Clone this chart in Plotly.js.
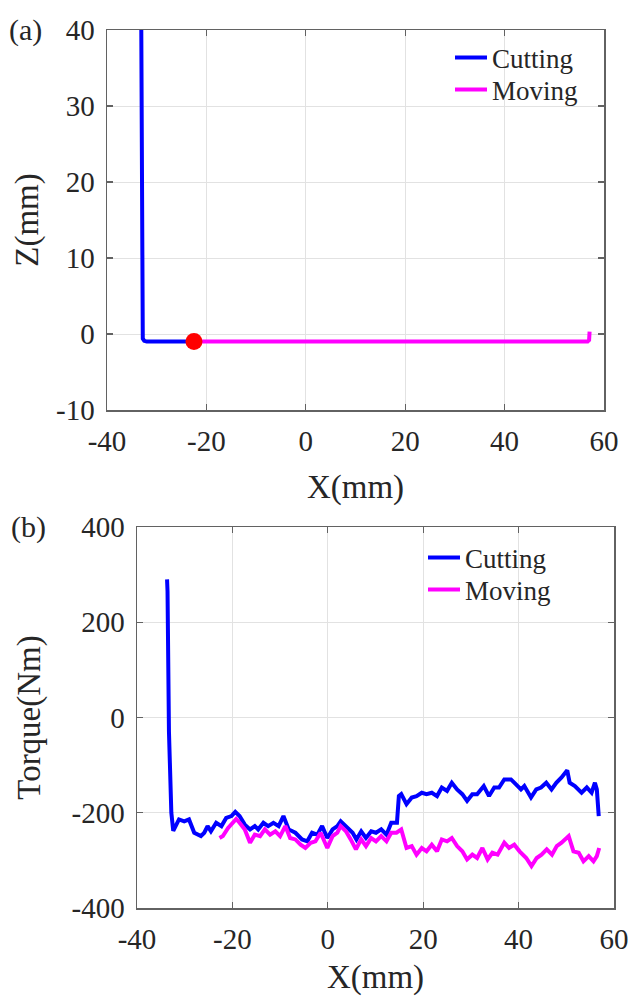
<!DOCTYPE html>
<html>
<head>
<meta charset="utf-8">
<script src="https://cdn.plot.ly/plotly-3.0.1.min.js"></script>
<style>html,body{margin:0;padding:0;background:#fff;}#chart{width:632px;height:997px;}</style>
</head>
<body>
<div id="chart"></div>
<script>
// ---- Panel (a): tool path ----
const pathCutX = [-33.1, -33.0, -32.95, -32.9, -32.8, -32.5, -32.0, -22.5];
const pathCutZ = [40, 10, 1, 0, -0.6, -0.9, -1.0, -1.0];
const pathMoveX = [-22.5, 56.7, 57.0, 57.1];
const pathMoveZ = [-1.0, -1.0, -0.8, 0.3];
const startX = [-22.5];
const startZ = [-1.0];

// ---- Panel (b): torque ----
const cutX = [-33.7, -33.6, -33.3, -32.8, -32.4, -31.2, -30.1, -29.1, -28.0, -26.6, -25.9, -25.2, -24.5, -23.4, -22.3, -21.3, -20.2, -19.4, -18.5, -17.4, -16.3, -15.3, -14.6, -13.5, -12.5, -11.4, -10.3, -9.3, -8.2, -6.8, -5.4, -4.3, -3.3, -2.2, -1.2, -0.1, 1.0, 2.0, 2.7, 3.8, 5.2, 6.0, 7.0, 8.0, 9.1, 10.1, 11.2, 12.3, 13.3, 14.5, 14.9, 15.4, 16.5, 17.6, 18.6, 19.7, 20.7, 21.8, 22.9, 23.9, 25.0, 26.0, 27.1, 28.2, 29.2, 30.3, 31.3, 32.7, 33.8, 34.9, 35.9, 37.0, 38.4, 39.4, 40.5, 41.2, 42.6, 43.7, 44.7, 45.8, 46.9, 47.9, 49.0, 50.2, 50.7, 51.8, 53.2, 54.3, 55.3, 56.0, 56.4, 56.8];
const cutT = [290, 265, -30, -200, -238, -214, -218, -214, -242, -249, -242, -228, -239, -221, -228, -211, -207, -198, -207, -225, -235, -228, -235, -221, -228, -221, -228, -207, -235, -242, -256, -260, -242, -246, -228, -253, -235, -228, -218, -228, -242, -256, -239, -253, -239, -242, -235, -246, -221, -221, -165, -161, -182, -168, -165, -158, -161, -158, -165, -147, -154, -137, -151, -161, -175, -161, -161, -144, -165, -147, -147, -130, -130, -140, -151, -144, -168, -151, -147, -137, -151, -137, -126, -111, -137, -144, -158, -147, -158, -137, -151, -207];
const moveX = [-22.7, -22.0, -20.9, -19.9, -19.2, -18.5, -17.4, -16.3, -15.3, -14.2, -13.2, -12.1, -11.0, -10.0, -8.9, -7.9, -6.8, -5.7, -4.7, -3.6, -2.6, -1.5, -0.1, 1.0, 2.0, 2.7, 3.8, 4.8, 5.9, 7.0, 8.0, 9.1, 10.1, 11.2, 12.3, 13.3, 14.4, 15.4, 16.5, 17.6, 18.6, 19.7, 20.7, 21.8, 22.9, 23.9, 25.0, 26.0, 27.1, 28.2, 29.2, 30.3, 31.3, 32.4, 33.5, 34.5, 35.6, 37.0, 38.0, 39.1, 40.2, 41.6, 42.7, 43.8, 44.8, 45.9, 47.0, 48.0, 49.0, 50.5, 51.5, 52.6, 53.6, 54.7, 55.7, 56.4, 56.9];
const moveT = [-253, -249, -232, -221, -213, -221, -235, -263, -246, -249, -235, -246, -239, -249, -228, -253, -256, -267, -274, -263, -260, -242, -274, -249, -242, -228, -239, -256, -277, -256, -270, -253, -260, -249, -260, -242, -242, -235, -274, -270, -288, -274, -281, -267, -281, -256, -260, -253, -270, -281, -298, -288, -295, -274, -298, -284, -288, -263, -274, -267, -281, -295, -312, -295, -288, -277, -288, -270, -263, -249, -281, -284, -302, -291, -302, -291, -274];

const xTicks = [-40, -20, 0, 20, 40, 60];
const xTickText = ['-40', '-20', '0', '20', '40', '60'];
const zTicks = [-10, 0, 10, 20, 30, 40];
const zTickText = ['-10', '0', '10', '20', '30', '40'];
const tTicks = [-400, -200, 0, 200, 400];
const tTickText = ['-400', '-200', '0', '200', '400'];

const FONT = 'Liberation Serif';
const TXT = '#262626';
const W = 632, H = 997;
const px = v => v / W;
const py = v => 1 - v / H;

function axisBase(extra) {
  return Object.assign({
    showline: true, linecolor: '#626262', linewidth: 1.5, mirror: 'ticks',
    ticks: 'inside', ticklen: 6, tickwidth: 1.2, tickcolor: '#626262',
    showgrid: true, gridcolor: '#e2e2e2', gridwidth: 1, zeroline: false,
    tickmode: 'array', ticklabelstandoff: 5,
    tickfont: {family: FONT, size: 29, color: TXT},
    fixedrange: true
  }, extra);
}

const traces = [
  {x: pathCutX, y: pathCutZ, xaxis: 'x', yaxis: 'y', mode: 'lines', name: 'Cutting',
   line: {color: '#0000ff', width: 4}, legend: 'legend'},
  {x: pathMoveX, y: pathMoveZ, xaxis: 'x', yaxis: 'y', mode: 'lines', name: 'Moving',
   line: {color: '#ff00ff', width: 4}, legend: 'legend2'},
  {x: startX, y: startZ, xaxis: 'x', yaxis: 'y', mode: 'markers', name: 'start', showlegend: false,
   marker: {color: '#ff0000', size: 17}},
  {x: cutX, y: cutT, xaxis: 'x2', yaxis: 'y2', mode: 'lines', name: 'Cutting',
   line: {color: '#0000ff', width: 4}, legend: 'legend3'},
  {x: moveX, y: moveT, xaxis: 'x2', yaxis: 'y2', mode: 'lines', name: 'Moving',
   line: {color: '#ff00ff', width: 4}, legend: 'legend4'}
];

function leg(x, y) {
  return {
    x: px(x), y: py(y), xanchor: 'left', yanchor: 'middle',
    bgcolor: 'rgba(255,255,255,0)', borderwidth: 0,
    font: {family: FONT, size: 27, color: TXT}, itemwidth: 32
  };
}

const layout = {
  width: W, height: H,
  margin: {l: 0, r: 0, t: 0, b: 0},
  paper_bgcolor: '#fff', plot_bgcolor: '#fff',
  showlegend: true,
  xaxis: axisBase({domain: [px(107), px(604)], range: [-40, 60], tickvals: xTicks, ticktext: xTickText, anchor: 'y',
    title: {text: 'X(mm)', font: {family: FONT, size: 33, color: TXT}, standoff: 18}}),
  yaxis: axisBase({domain: [py(410), py(30)], range: [-10, 40], tickvals: zTicks, ticktext: zTickText, anchor: 'x',
    title: {text: 'Z(mm)', font: {family: FONT, size: 33, color: TXT}, standoff: 7}}),
  xaxis2: axisBase({domain: [px(137), px(614)], range: [-40, 60], tickvals: xTicks, ticktext: xTickText, anchor: 'y2',
    title: {text: 'X(mm)', font: {family: FONT, size: 33, color: TXT}, standoff: 10}}),
  yaxis2: axisBase({domain: [py(908), py(527)], range: [-400, 400], tickvals: tTicks, ticktext: tTickText, anchor: 'x2',
    title: {text: 'Torque(Nm)', font: {family: FONT, size: 33, color: TXT}, standoff: 21}}),
  legend: leg(450, 58),
  legend2: leg(450, 90),
  legend3: leg(423, 558),
  legend4: leg(423, 590),
  annotations: [
    {text: '(a)', xref: 'paper', yref: 'paper', x: px(25), y: py(30), showarrow: false,
     font: {family: FONT, size: 30, color: TXT}, xanchor: 'center', yanchor: 'middle'},
    {text: '(b)', xref: 'paper', yref: 'paper', x: px(28), y: py(527), showarrow: false,
     font: {family: FONT, size: 30, color: TXT}, xanchor: 'center', yanchor: 'middle'}
  ]
};

Plotly.newPlot('chart', traces, layout, {staticPlot: true, displayModeBar: false});
</script>
</body>
</html>
